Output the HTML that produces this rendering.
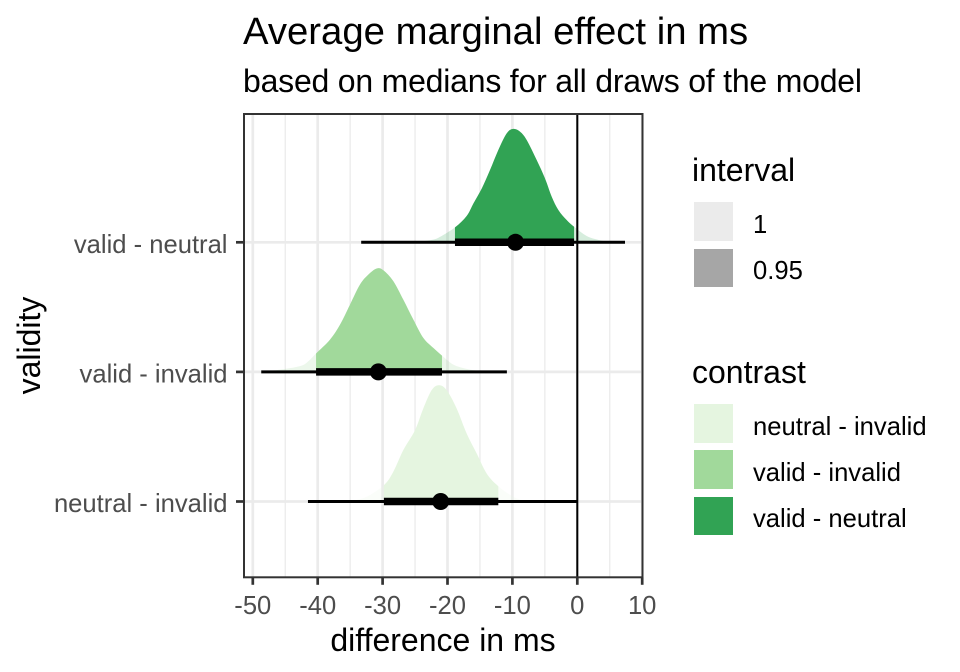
<!DOCTYPE html>
<html>
<head>
<meta charset="utf-8">
<title>Average marginal effect in ms</title>
<style>
html,body{margin:0;padding:0;background:#fff;width:960px;height:672px;overflow:hidden}
svg{display:block}
text{font-family:"Liberation Sans",sans-serif}
</style>
</head>
<body>
<svg id="chart" width="960" height="672" viewBox="0 0 960 672" xmlns="http://www.w3.org/2000/svg">
  <rect x="0" y="0" width="960" height="672" fill="#fff"/>
  <text x="243" y="44" font-size="38.3" fill="#000">Average marginal effect in ms</text>
  <text x="243" y="92" font-size="32" fill="#000" textLength="619" lengthAdjust="spacing">based on medians for all draws of the model</text>
  <g id="plot"></g>
  <text x="443" y="651" font-size="32" text-anchor="middle" fill="#000">difference in ms</text>
  <text transform="translate(40,345.5) rotate(-90)" font-size="32" text-anchor="middle" fill="#000">validity</text>

  <g>
    <text x="692" y="181" font-size="32" fill="#000">interval</text>
    <rect x="694" y="202" width="39" height="39" fill="#ebebeb"/>
    <text x="753" y="233" font-size="25.6" fill="#000">1</text>
    <rect x="694" y="249" width="39" height="38" fill="#a6a6a6"/>
    <text x="753" y="279" font-size="25.6" fill="#000">0.95</text>
  </g>
  <g>
    <text x="692" y="383" font-size="32" fill="#000">contrast</text>
    <rect x="694" y="404" width="39" height="39" fill="#e5f5e0"/>
    <text x="753" y="435" font-size="25.6" fill="#000">neutral - invalid</text>
    <rect x="694" y="450" width="39" height="39" fill="#a1d99b"/>
    <text x="753" y="481" font-size="25.6" fill="#000">valid - invalid</text>
    <rect x="694" y="497" width="39" height="38" fill="#31a354"/>
    <text x="753" y="527" font-size="25.6" fill="#000">valid - neutral</text>
  </g>
</svg>
<script>
// ---- data ----
var categories = ["neutral - invalid", "valid - invalid", "valid - neutral"];
var fillColors = ["#e5f5e0", "#a1d99b", "#31a354"];
var xTickValues = [-50, -40, -30, -20, -10, 0, 10];
var xTickLabels = ["-50", "-40", "-30", "-20", "-10", "0", "10"];
var xMinorValues = [-45, -35, -25, -15, -5, 5];

var neutralInvalidX = [-35, -32.46, -29.79, -28.35, -26.81, -25.01, -23.73, -22.44, -21.31, -20.13, -18.59, -17.05, -15.5, -13.97, -12.17, -9.86, -8];
var neutralInvalidDensity = [0, .0028, .0096, .0175, .0302, .0419, .0547, .0655, .0684, .0655, .0547, .04, .0282, .0165, .009, .0028, 0];
var validInvalidX = [-49, -46.07, -42.73, -41.44, -40.26, -38.1, -36.56, -35.02, -33.48, -32.2, -30.91, -29.89, -28.35, -26.81, -25.27, -23.73, -22.19, -20.85, -19.1, -17.05, -15, -12];
var validInvalidDensity = [0, .0012, .0034, .0063, .0108, .019, .0278, .0396, .0514, .0572, .0608, .0598, .0534, .0425, .0308, .02, .0141, .0096, .0043, .0018, .0006, 0];
var validNeutralX = [-25, -22.4, -21.2, -18.85, -17.05, -16, -14.7, -13.45, -12.17, -10.88, -9.86, -8.83, -7.8, -6.26, -4.98, -3.95, -2.92, -1.64, -0.51, 1.44, 3.24, 5];
var validNeutralDensity = [0, .0014, .0031, .0088, .0155, .0229, .0318, .0425, .0543, .0641, .0667, .0651, .0602, .0484, .0376, .0269, .019, .0131, .0092, .0037, .0014, 0];

var medians = [-21.05, -30.65, -9.52];
var lower95 = [-29.8, -40.25, -18.85];
var upper95 = [-12.17, -20.85, -0.5];
var lower100 = [-41.5, -48.7, -33.3];
var upper100 = [-0.1, -10.85, 7.35];

// ---- scales ----
var panelLeft = 244, panelRight = 642.5, panelTop = 114, panelBottom = 577.3;
function xScale(v) { return 577.3 + v * 6.49; }
function yScale(i) { return 501.5 - i * 129.6; }
function densityScale(d) { return d * 1700; }

var NS = "http://www.w3.org/2000/svg";
var plot = document.getElementById("plot");
function mk(tag, attrs, parent) {
  var el = document.createElementNS(NS, tag);
  for (var k in attrs) el.setAttribute(k, attrs[k]);
  (parent || plot).appendChild(el);
  return el;
}

// smooth closed area through the density outline (Catmull-Rom to Bezier)
function areaPath(px, py, base) {
  var d = "M" + px[0].toFixed(2) + "," + base + " L" + px[0].toFixed(2) + "," + py[0].toFixed(2);
  var n = px.length;
  for (var j = 0; j < n - 1; j++) {
    var a = Math.max(j - 1, 0), b = j + 1, c = Math.min(j + 2, n - 1);
    var c1x = px[j] + (px[b] - px[a]) / 6, c1y = py[j] + (py[b] - py[a]) / 6;
    var c2x = px[b] - (px[c] - px[j]) / 6, c2y = py[b] - (py[c] - py[j]) / 6;
    d += " C" + c1x.toFixed(2) + "," + Math.min(c1y, base).toFixed(2) + " " + c2x.toFixed(2) + "," + Math.min(c2y, base).toFixed(2) + " " + px[b].toFixed(2) + "," + py[b].toFixed(2);
  }
  return d + " L" + px[n - 1].toFixed(2) + "," + base + " Z";
}

// grid
xMinorValues.forEach(function (v) {
  var el = mk("line", {x1: xScale(v), x2: xScale(v), y1: panelTop, y2: panelBottom, stroke: "#ebebeb", "stroke-width": 1.3});
  
  
});
xTickValues.forEach(function (v) {
  var el = mk("line", {x1: xScale(v), x2: xScale(v), y1: panelTop, y2: panelBottom, stroke: "#ebebeb", "stroke-width": 2.7});
  
  
});
categories.forEach(function (c, i) {
  var el = mk("line", {x1: panelLeft, x2: panelRight, y1: yScale(i), y2: yScale(i), stroke: "#ebebeb", "stroke-width": 2.7});
  
  
});

// density slabs
var xSeries = [neutralInvalidX, validInvalidX, validNeutralX];
var densitySeries = [neutralInvalidDensity, validInvalidDensity, validNeutralDensity];
var slabNames = ["neutral-invalid", "valid-invalid", "valid-neutral"];
var defs = mk("defs", {});
categories.forEach(function (c, i) {
  var base = yScale(i);
  var px = xSeries[i].map(xScale);
  var py = densitySeries[i].map(function (d) { return base - densityScale(d); });
  var shape = areaPath(px, py, base);
  var tail = mk("path", {d: shape, fill: fillColors[i], "fill-opacity": 0.2});
  
  
  var clip = mk("clipPath", {id: "clip-" + i}, defs);
  mk("rect", {x: xScale(lower95[i]), y: panelTop, width: xScale(upper95[i]) - xScale(lower95[i]), height: panelBottom - panelTop}, clip);
  var core = mk("path", {d: shape, fill: fillColors[i], "clip-path": "url(#clip-" + i + ")"});
  
  
});

// zero reference line
var zero = mk("line", {x1: xScale(0), x2: xScale(0), y1: panelTop, y2: panelBottom, stroke: "#000", "stroke-width": 2});



// intervals and medians
categories.forEach(function (c, i) {
  var thin = mk("line", {x1: xScale(lower100[i]), x2: xScale(upper100[i]), y1: yScale(i), y2: yScale(i), stroke: "#000", "stroke-width": 3});
  
  
  var thick = mk("line", {x1: xScale(lower95[i]), x2: xScale(upper95[i]), y1: yScale(i), y2: yScale(i), stroke: "#000", "stroke-width": 7.5});
  
  
  var dot = mk("circle", {cx: xScale(medians[i]), cy: yScale(i), r: 8.5, fill: "#000"});
  
  
});

// panel border
var border = mk("rect", {x: panelLeft, y: panelTop, width: panelRight - panelLeft, height: panelBottom - panelTop, fill: "none", stroke: "#333", "stroke-width": 2});



// x axis
xTickValues.forEach(function (v, i) {
  var t = mk("line", {x1: xScale(v), x2: xScale(v), y1: panelBottom, y2: panelBottom + 7.5, stroke: "#333", "stroke-width": 2.7});
  
  
  var l = mk("text", {x: xScale(v), y: 614, "font-size": 25.6, "text-anchor": "middle", fill: "#4d4d4d"});
  l.textContent = xTickLabels[i];
  
  
});

// y axis
categories.forEach(function (c, i) {
  var t = mk("line", {x1: panelLeft - 8, x2: panelLeft, y1: yScale(i), y2: yScale(i), stroke: "#333", "stroke-width": 2.7});
  
  
  var l = mk("text", {x: 227.5, y: yScale(i) + 10.7, "font-size": 25.6, "text-anchor": "end", fill: "#4d4d4d"});
  l.textContent = c;
  
  
});
</script>
</body>
</html>
